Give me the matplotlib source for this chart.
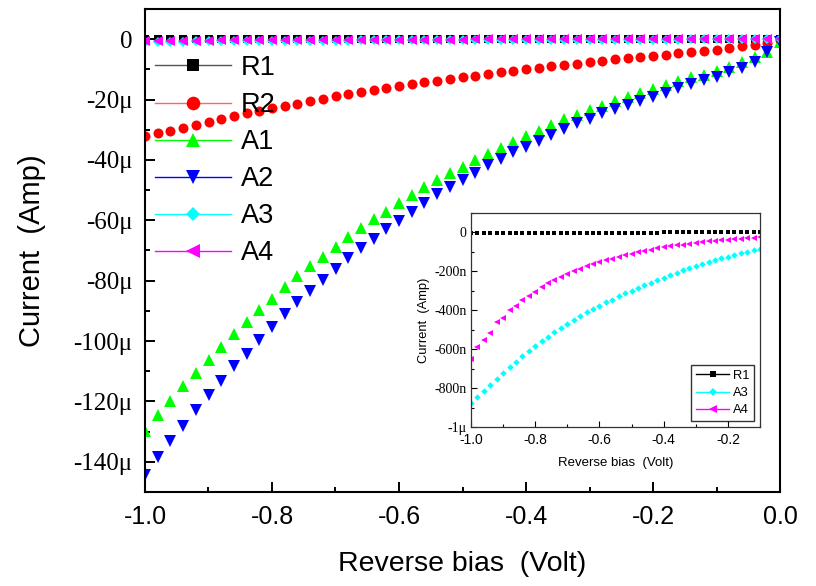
import numpy as np
import matplotlib
matplotlib.use("Agg")
import matplotlib.pyplot as plt
from matplotlib.lines import Line2D
from matplotlib.ticker import MultipleLocator

plt.rcParams["font.family"] = ["Liberation Sans", "DejaVu Sans"]
plt.rcParams["axes.unicode_minus"] = False

# Reverse bias sweep (V), 0.02 V steps
bias = np.linspace(-1.0, 0.0, 51)

# Reference devices / alternatives, current in microamps
R2_uA = [-32.2, -31.1, -30.4, -29.5, -28.4, -27.3, -26.5, -25.4, -24.5, -23.7,
         -22.9, -22.2, -21.4, -20.6, -19.7, -18.9, -18.2, -17.5, -16.9, -16.2,
         -15.6, -14.9, -14.3, -13.8, -13.2, -12.6, -12.2, -11.6, -10.9, -10.5,
         -9.9, -9.6, -8.9, -8.5, -8.2, -7.6, -7.3, -6.7, -6.3, -6.0,
         -5.5, -5.2, -4.6, -4.3, -3.9, -3.5, -3.0, -2.4, -1.9, -1.1,
         -0.4]
A1_uA = [-129.7, -124.6, -119.8, -115.0, -110.6, -106.2, -101.9, -97.7, -93.7, -89.6,
         -86.1, -82.2, -78.6, -75.3, -72.0, -68.7, -65.6, -62.6, -59.7, -57.1,
         -54.3, -51.6, -49.0, -46.6, -44.4, -42.3, -40.1, -38.0, -36.0, -34.0,
         -32.1, -30.3, -28.4, -26.6, -25.1, -23.5, -22.0, -20.5, -19.1, -17.9,
         -16.5, -15.1, -14.0, -12.6, -11.7, -10.4, -9.3, -7.6, -6.0, -4.1,
         -0.8]
A2_uA = [-144.3, -138.5, -133.2, -128.0, -122.9, -117.9, -113.1, -108.4, -104.2, -99.7,
         -95.4, -91.2, -87.2, -83.4, -79.7, -76.2, -72.6, -69.3, -66.2, -62.9,
         -60.1, -57.1, -54.3, -51.4, -48.9, -46.7, -44.2, -41.7, -39.6, -37.5,
         -35.6, -33.6, -31.7, -29.8, -27.9, -26.3, -24.6, -23.1, -21.8, -20.4,
         -19.0, -17.7, -16.2, -14.9, -13.5, -12.4, -10.9, -9.4, -7.4, -4.3,
         -0.9]

# Low-leakage devices, current in nanoamps
R1_nA = [-3, -3, -3, -2, -3, -2, -3, -2, -2, -3,
         -2, -2, -3, -2, -2, -2, -3, -2, -2, -2,
         -2, -2, -2, -2, -2, -2, -2, -2, -2, -2,
         -1, -1, -1, -1, -1, -1, -1, -1, -1, -1,
         -1, -1, -1, -1, -1, -1, -1, -1, -1, -1,
         -1]
A3_nA = [-876, -845, -815, -783, -752, -723, -692, -664, -636, -610,
         -584, -560, -536, -514, -492, -471, -450, -430, -411, -394,
         -377, -360, -345, -328, -313, -301, -286, -272, -259, -246,
         -233, -220, -208, -195, -185, -174, -163, -152, -142, -133,
         -125, -116, -108, -99, -91, -85, -78, -71, -64, -57,
         -50]
A4_nA = [-650, -590, -552, -518, -462, -441, -398, -378, -350, -325,
         -305, -281, -258, -246, -228, -212, -198, -188, -175, -162,
         -154, -144, -135, -127, -117, -110, -103, -96, -89, -83,
         -77, -73, -68, -64, -59, -55, -51, -47, -44, -41,
         -38, -35, -33, -30, -28, -26, -24, -22, -20, -18,
         -16]

labels = ["R1", "R2", "A1", "A2", "A3", "A4"]
colors = ["#000000", "#ff0000", "#00ff00", "#0000ff", "#00ffff", "#ff00ff"]
line_colors = ["#555555", "#ff6666", "#00ff00", "#0000ff", "#00ffff", "#ff00ff"]
markers = ["s", "o", "^", "v", "D", "<"]
main_ms = [5.5, 7.2, 8.4, 8.4, 5.4, 7.8]
legend_ms = [8.0, 9.8, 10.5, 10.5, 7.4, 10.5]

main_series = [np.array(R1_nA) / 1000.0, R2_uA, A1_uA, A2_uA,
               np.array(A3_nA) / 1000.0, np.array(A4_nA) / 1000.0]

fig = plt.figure(figsize=(8.16, 5.86), dpi=100)
ax = fig.add_axes([145 / 816, 1 - 492 / 586, 635 / 816, 483 / 586])

for y, c, m, ms in zip(main_series, colors, markers, main_ms):
    ax.plot(bias, y, linestyle="none", marker=m, ms=ms, color=c,
            markeredgewidth=0, clip_on=True)

ax.set_xlim(-1.0, 0.0)
ax.set_ylim(-150, 10)
yt = [0, -20, -40, -60, -80, -100, -120, -140]
ax.set_yticks(yt, ["0" if v == 0 else f"{v}μ" for v in yt],
              fontfamily="Liberation Serif", fontsize=18)
xt = [-1.0, -0.8, -0.6, -0.4, -0.2, 0.0]
ax.set_xticks(xt, [f"{v:.1f}" for v in xt], fontsize=18)
ax.xaxis.set_minor_locator(MultipleLocator(0.1))
ax.yaxis.set_minor_locator(MultipleLocator(10))
ax.tick_params(which="both", direction="in", top=False, right=False, width=1.4)
ax.tick_params(which="major", length=7)
ax.tick_params(which="minor", length=3.6)
ax.tick_params(axis="y", pad=9)
ax.tick_params(axis="x", pad=9)
for s in ax.spines.values():
    s.set_linewidth(1.5)

ax.set_xlabel("Reverse bias  (Volt)", fontsize=20.5, labelpad=16)
ax.set_ylabel("Current  (Amp)", fontsize=21, labelpad=20)

handles = [Line2D([], [], color=lc, lw=1.0, marker=m, ms=lms, mfc=c, mec=c, mew=0)
           for lc, c, m, lms in zip(line_colors, colors, markers, legend_ms)]
ax.legend(handles, labels, loc="upper left", bbox_to_anchor=(0.0157, 0.905),
          frameon=False, fontsize=19.5, handlelength=2.8, handletextpad=0.36,
          labelspacing=0.41, borderpad=0, borderaxespad=0)

# Inset: low-leakage devices in nA
ins = fig.add_axes([471 / 816, 1 - 427.3 / 586, 289 / 816, 214.6 / 586])
ins_series = [R1_nA, A3_nA, A4_nA]
ins_idx = [0, 4, 5]
ins_ms = [3.0, 3.3, 4.6]
for y, i, ms in zip(ins_series, ins_idx, ins_ms):
    ins.plot(bias, y, linestyle="none", marker=markers[i], ms=ms,
             color=colors[i], markeredgewidth=0)
ins.set_xlim(-1.0, -0.1)
ins.set_ylim(-1000, 100)
iyt = [0, -200, -400, -600, -800, -1000]
ins.set_yticks(iyt, ["0", "-200n", "-400n", "-600n", "-800n", "-1μ"],
               fontfamily="Liberation Serif", fontsize=10)
ixt = [-1.0, -0.8, -0.6, -0.4, -0.2]
ins.set_xticks(ixt, [f"{v:.1f}" for v in ixt], fontsize=10)
ins.xaxis.set_minor_locator(MultipleLocator(0.1))
ins.yaxis.set_minor_locator(MultipleLocator(100))
ins.tick_params(which="both", direction="in", top=False, right=False, width=0.8)
ins.tick_params(which="major", length=4, pad=3)
ins.tick_params(axis="x", pad=4)
ins.tick_params(which="minor", length=2)
for s in ins.spines.values():
    s.set_linewidth(0.9)
    s.set_color("#333333")
ins.set_xlabel("Reverse bias  (Volt)", fontsize=9.5, labelpad=7)
ins.set_ylabel("Current  (Amp)", fontsize=9.3, labelpad=3)

ins_handles = [Line2D([], [], color=colors[i], lw=1.0, marker=markers[i],
                      ms=ms * 1.3, mew=0) for i, ms in zip(ins_idx, ins_ms)]
leg = ins.legend(ins_handles, ["R1", "A3", "A4"], loc="lower right",
                 bbox_to_anchor=(0.98, 0.03), fontsize=9.3, frameon=True,
                 fancybox=False, edgecolor="black", handlelength=2.6,
                 handletextpad=0.3, labelspacing=0.4, borderpad=0.35,
                 borderaxespad=0)
leg.get_frame().set_linewidth(1.0)

fig.savefig("out.png", dpi=100)
